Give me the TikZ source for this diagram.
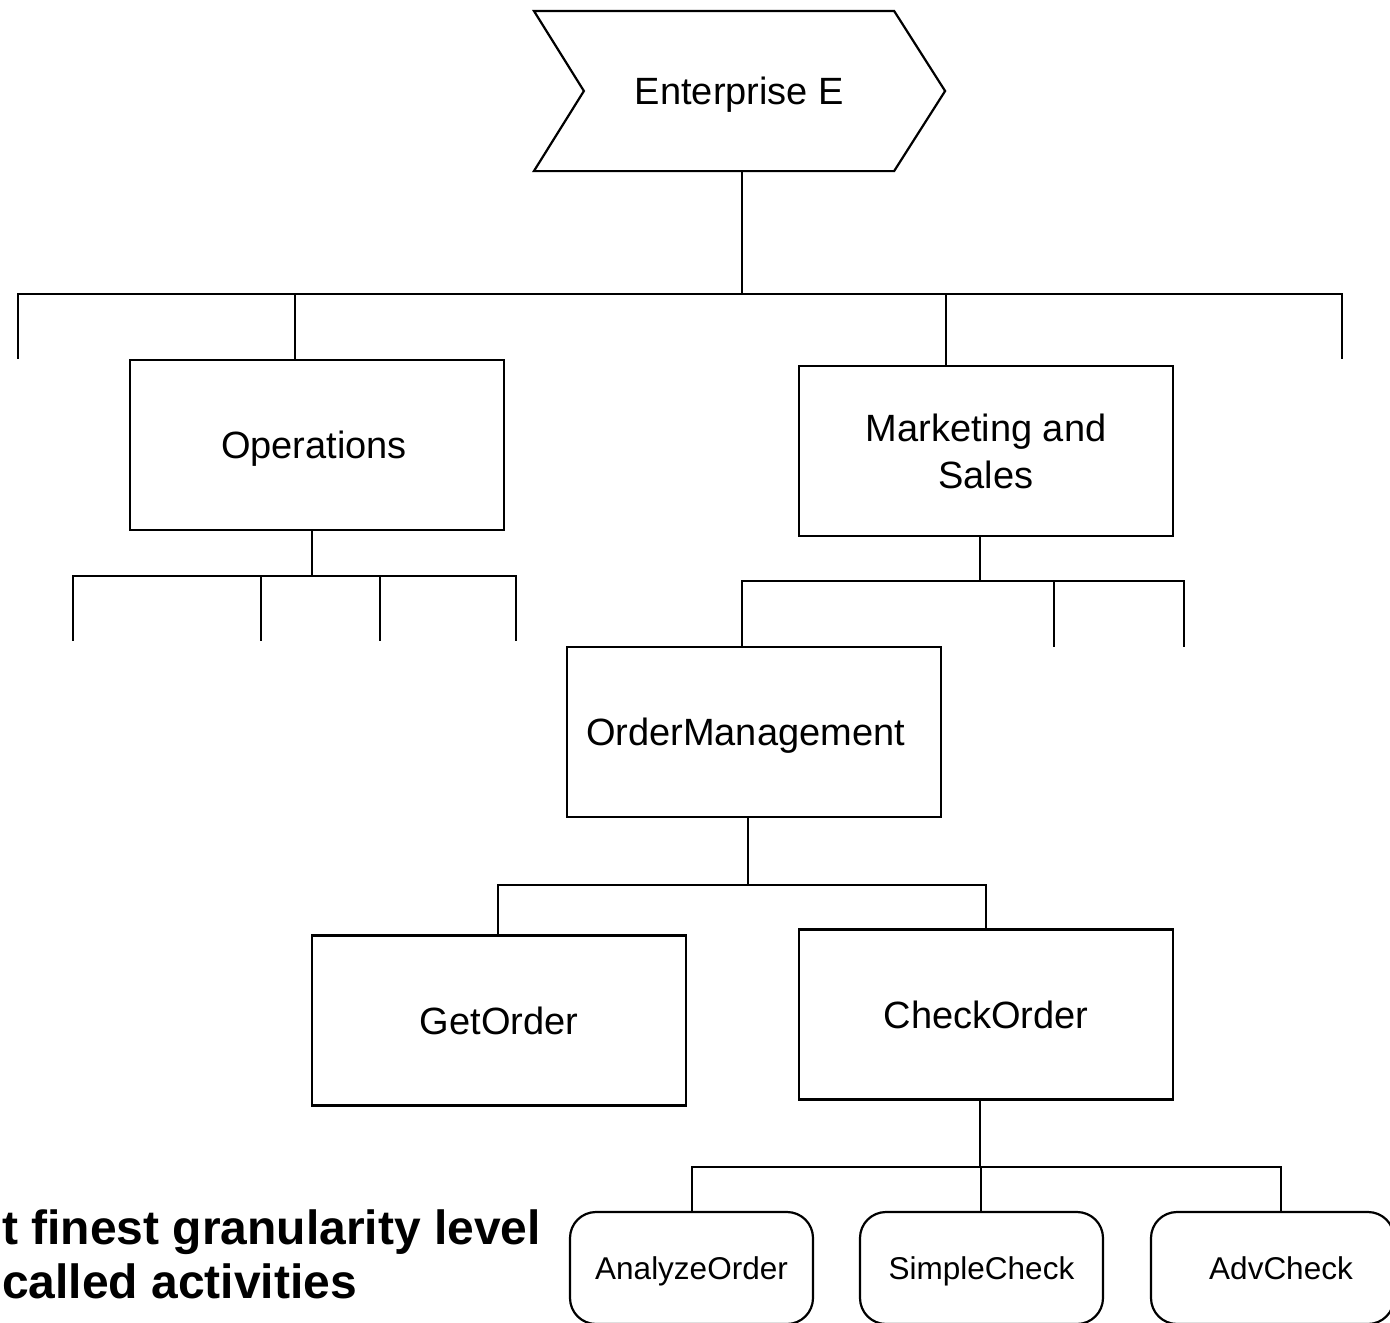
\documentclass[tikz,border=0pt]{standalone}
\usepackage{fontspec}
\setmainfont{Liberation Sans}
\usetikzlibrary{calc}
\begin{document}
\begin{tikzpicture}[x=1pt,y=-1pt,
  line width=2.2pt, line cap=rect,
  box/.style={draw, line width=2.2pt, rectangle, minimum width=374pt, minimum height=170pt, inner sep=0pt,
    font=\fontsize{38}{47}\selectfont, align=center},
  capc/.style={text height=27.2pt, text depth=0pt},
  act/.style={draw, line width=2.2pt, rectangle, rounded corners=26pt, minimum width=243pt, minimum height=112pt, inner sep=0pt,
    font=\fontsize{31.5}{38}\selectfont, text height=22.6pt, text depth=0pt},
  note/.style={font=\fontsize{48}{54}\selectfont\bfseries, inner sep=0pt, anchor=base west}]
\useasboundingbox (0,0) rectangle (1390,1323);
\clip (0,0) rectangle (1390,1323);

% Enterprise chevron
\node[minimum width=409pt, minimum height=158pt, inner sep=0pt, font=\fontsize{38}{46}\selectfont, capc] (ent) at (739.5,91) {Enterprise E};
\draw[line cap=butt, line join=miter] (ent.north west) -- ($(ent.north east)+(-51,0)$) -- (ent.east) -- ($(ent.south east)+(-51,0)$) -- (ent.south west) -- ($(ent.west)+(50,0)$) -- cycle;

% level 1
\node[box, capc] (ops) at (317,445) {\hspace*{-6pt}Operations};
\node[box] (mks) at (986,451) {Marketing and\\Sales};

\coordinate (j0) at (742,294);
\coordinate (l0a) at (18,294);
\coordinate (l0b) at (1342,294);
\coordinate (e0a) at (18,358);
\coordinate (e0b) at (1342,358);
\draw (ent.south -| j0) -- (j0);
\draw (e0a) -- (l0a) -- (l0b) -- (e0b);
\draw (ops.north -| 295,0) -- (295,294);
\draw (mks.north -| 946,0) -- (946,294);

% Operations children stubs
\coordinate (j1) at (312,576);
\draw (ops.south -| j1) -- (j1);
\draw (73,640) -- (73,576) -- (516,576) -- (516,640);
\draw (261,576) -- (261,640);
\draw (380,576) -- (380,640);

% Marketing children
\node[box, capc] (om) at (754,732) {\hspace*{-17pt}OrderManagement};
\coordinate (j2) at (980,581);
\draw (mks.south -| j2) -- (j2);
\draw (om.north -| 742,0) -- (742,581) -- (1184,581) -- (1184,646);
\draw (1054,581) -- (1054,646);

% OrderManagement children
\node[box, capc] (go) at (499,1020.5) {GetOrder};
\node[box, capc] (co) at (986,1014.5) {CheckOrder};
\coordinate (j3) at (748,885);
\draw (om.south -| j3) -- (j3);
\draw (go.north -| 498,0) -- (498,885) -- (986,885) -- (co.north -| 986,0);

% CheckOrder children
\node[act] (ao) at (691.5,1268) {AnalyzeOrder};
\node[act] (sc) at (981.5,1268) {SimpleCheck};
\node[act] (ac) at (1272.5,1268) {\hspace*{17pt}AdvCheck};
\coordinate (j4) at (980,1167);
\draw (co.south -| j4) -- (j4);
\draw (ao.north -| 692,0) -- (692,1167) -- (1281,1167) -- (ac.north -| 1281,0);
\draw (981,1167) -- (sc.north -| 981,0);

% note text
\node[note] (n1) at (1,1244) {t finest granularity level};
\node[note] (n2) at (1,1298) {called activities};
\end{tikzpicture}
\end{document}
